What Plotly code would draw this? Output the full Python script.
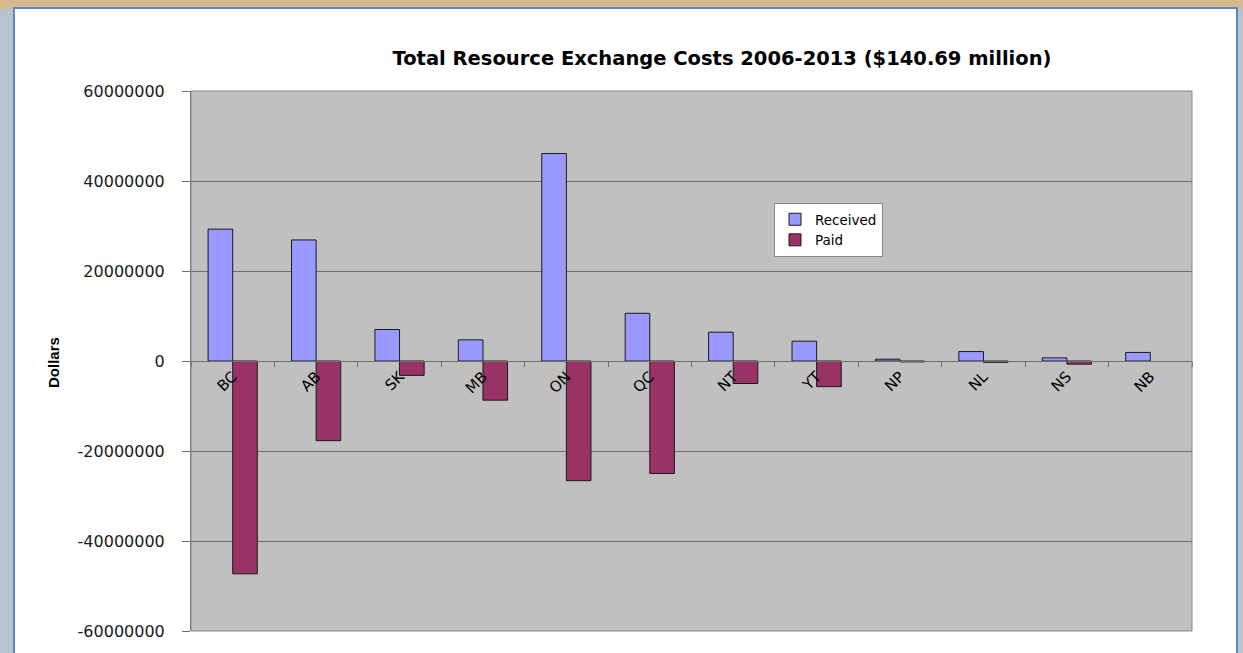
import plotly.graph_objects as go

# ---- data ----
provinces = ["BC", "AB", "SK", "MB", "ON", "QC", "NT", "YT", "NP", "NL", "NS", "NB"]
received = [29300000, 26900000, 7000000, 4700000, 46100000, 10600000,
            6400000, 4400000, 400000, 2100000, 700000, 1900000]
paid = [-47300000, -17700000, -3200000, -8700000, -26600000, -25000000,
        -5000000, -5700000, -200000, -300000, -700000, None]
y_ticks = [-60000000, -40000000, -20000000, 0, 20000000, 40000000, 60000000]
y_tick_labels = ["-60000000", "-40000000", "-20000000", "0", "20000000", "40000000", "60000000"]

title_text = "Total Resource Exchange Costs 2006-2013 ($140.69 million)"

W, H = 1243, 653
L, R, T, B = 191, 51, 91, 22
PW, PH = W - L - R, H - T - B


def px_x(x):
    return (x - L) / PW


def px_y(y):
    return (H - B - y) / PH


fig = go.Figure()
fig.add_trace(go.Bar(
    x=provinces, y=received, name="Received",
    marker=dict(color="#9999FF", line=dict(color="#1a1a1a", width=1)),
))
fig.add_trace(go.Bar(
    x=provinces, y=paid, name="Paid",
    marker=dict(color="#993366", line=dict(color="#1a1a1a", width=1)),
))

shapes = [
    # slide background strips around the white chart area
    dict(type="rect", xref="paper", yref="paper", x0=px_x(0), x1=px_x(W), y0=px_y(0), y1=px_y(9),
         fillcolor="#d6b98f", line=dict(width=0), layer="below"),
    dict(type="rect", xref="paper", yref="paper", x0=px_x(0), x1=px_x(14), y0=px_y(H), y1=px_y(9),
         fillcolor="#b7c3cd", line=dict(width=0), layer="below"),
    dict(type="rect", xref="paper", yref="paper", x0=px_x(1237), x1=px_x(W), y0=px_y(H), y1=px_y(9),
         fillcolor="#b7c3cd", line=dict(width=0), layer="below"),
    # chart area frame
    dict(type="rect", xref="paper", yref="paper", x0=px_x(14), x1=px_x(1237), y0=px_y(H + 5), y1=px_y(8),
         fillcolor="rgba(0,0,0,0)", line=dict(color="#5f86c2", width=2), layer="below"),
    # plot area border
    dict(type="rect", xref="paper", yref="paper", x0=0, x1=1, y0=0, y1=1,
         fillcolor="rgba(0,0,0,0)", line=dict(color="#8a8a8a", width=1), layer="above"),
]

fig.update_layout(
    width=W, height=H,
    margin=dict(l=L, r=R, t=T, b=B, pad=0),
    paper_bgcolor="white",
    plot_bgcolor="#C0C0C0",
    barmode="group",
    bargap=0.41,
    bargroupgap=0,
    showlegend=True,
    legend=dict(
        x=px_x(774), y=px_y(203), xanchor="left", yanchor="top",
        bgcolor="white", bordercolor="#8a8a8a", borderwidth=1,
        font=dict(family="DejaVu Sans", size=13.5, color="black"),
        itemwidth=30, tracegroupgap=0,
    ),
    title=dict(
        text="<b>" + title_text + "</b>",
        xref="container", x=722 / W, xanchor="center",
        yref="container", y=1 - 58 / H, yanchor="middle",
        font=dict(family="DejaVu Sans", size=19.5, color="black"),
    ),
    shapes=shapes,
    annotations=[dict(
        text="<b>Dollars</b>", textangle=-90,
        xref="paper", yref="paper", x=px_x(53), y=px_y(363),
        xanchor="center", yanchor="middle", showarrow=False,
        font=dict(family="Liberation Sans", size=15, color="black"),
    )],
    font=dict(family="DejaVu Sans", color="black"),
)

fig.update_yaxes(
    range=[-60000000, 60000000],
    tickmode="array",
    tickvals=y_ticks,
    ticktext=y_tick_labels,
    showgrid=True, gridcolor="#6e6e6e", gridwidth=1,
    zeroline=True, zerolinecolor="#6e6e6e", zerolinewidth=1,
    showline=True, linecolor="#6e6e6e", linewidth=1,
    ticks="outside", ticklen=8, tickcolor="#6e6e6e",
    ticklabelstandoff=14,
    tickfont=dict(family="DejaVu Sans", size=16, color="#1a1a1a"),
)

fig.update_xaxes(
    type="category",
    anchor="free", position=0.5,
    showgrid=False,
    showline=True, linecolor="#6e6e6e", linewidth=1,
    ticks="outside", ticklen=5, tickcolor="#6e6e6e",
    tickson="boundaries",
    tickangle=-45,
    tickfont=dict(family="DejaVu Sans", size=15, color="black"),
)

fig.write_html("out.html")
